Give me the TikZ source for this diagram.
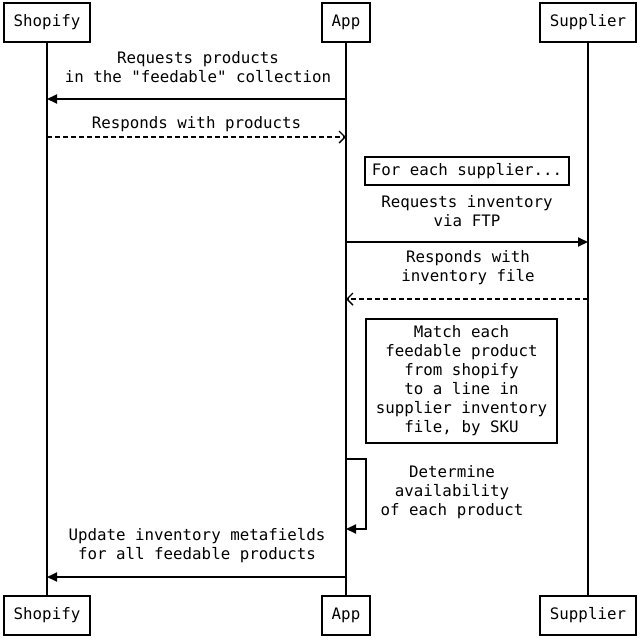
\documentclass[tikz,border=0pt]{standalone}
\usepackage{fontspec}
\setmonofont{DejaVu Sans Mono}
\usetikzlibrary{arrows.meta}
\begin{document}
\begin{tikzpicture}[x=1pt,y=-1pt,line width=1.8pt,
    party/.style={draw,fill=white,font=\ttfamily\fontsize{15.8}{19}\selectfont,inner xsep=10pt,minimum height=39pt},
    notebox/.style={draw,fill=white,align=center,font=\ttfamily\fontsize{15.8}{19}\selectfont,inner xsep=7pt,inner ysep=6pt},
    msgtext/.style={align=center,font=\ttfamily\fontsize{15.8}{19}\selectfont},
    call/.style={-{Triangle[length=10pt,width=9pt]}},
    answer/.style={dash pattern=on 5pt off 3pt,-{Straight Barb[length=6pt,width=12pt,line width=1.4pt]}}]
                \useasboundingbox (0,0) rectangle (642,641);
                \node[party] (shopT) at (47,22.5) {Shopify};
                \node[party] (appT) at (346,22.5) {App};
                \node[party] (supT) at (588,22.5) {Supplier};
                \node[party] (shopB) at (47,615.5) {Shopify};
                \node[party] (appB) at (346,615.5) {App};
                \node[party] (supB) at (588,615.5) {Supplier};
                \draw (shopT) -- (shopB);
                \draw (appT) -- (appB);
                \draw (supT) -- (supB);
                \coordinate (s1) at (47,99);
                \coordinate (a1) at (346,99);
                \coordinate (s2) at (47,137);
                \coordinate (a2) at (346,137);
                \coordinate (a3) at (346,242);
                \coordinate (u3) at (588,242);
                \coordinate (a4) at (346,299);
                \coordinate (u4) at (588,299);
                \coordinate (a5) at (346,459);
                \coordinate (a6) at (346,529);
                \coordinate (s7) at (47,577);
                \coordinate (a7) at (346,577);
                \draw[call] (a1) -- (s1);
                \node[msgtext] (t1) at (198,67.5) {Requests products\\in the "feedable" collection};
                \draw[answer] (s2) -- (a2);
                \node[msgtext] (t2) at (196.5,124) {Responds with products};
                \node[notebox] (loop) at (467,171) {For each supplier...};
                \draw[call] (a3) -- (u3);
                \node[msgtext] (t3) at (467,211) {Requests inventory\\via FTP};
                \draw[answer] (u4) -- (a4);
                \node[msgtext] (t4) at (468,268) {Responds with\\inventory file};
                \node[notebox,inner xsep=10pt,inner ysep=6.5pt] (match) at (461.5,381) {Match each\\feedable product\\from shopify\\to a line in\\supplier inventory\\file, by SKU};
                \draw[call] (a5) -- ++(20,0) |- (a6);
                \node[msgtext] (t6) at (452,492) {Determine\\availability\\of each product};
                \draw[call] (a7) -- (s7);
                \node[msgtext] (t7) at (197,545.5) {Update inventory metafields\\for all feedable products};
            \end{tikzpicture}
\end{document}
